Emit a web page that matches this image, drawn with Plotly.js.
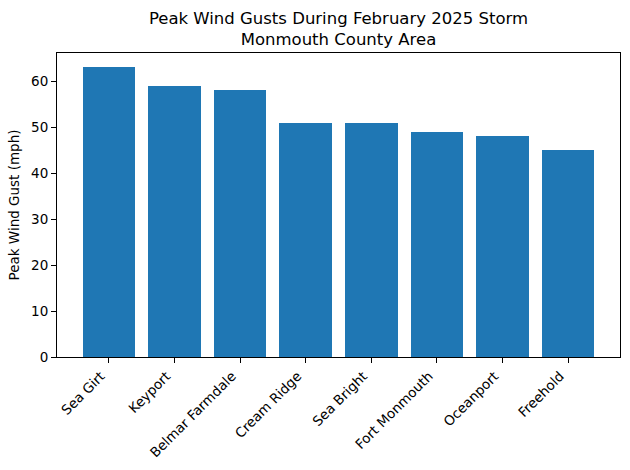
<!DOCTYPE html>
<html>
<head>
<meta charset="utf-8">
<script src="https://cdn.plot.ly/plotly-3.0.1.min.js"></script>
<style>html,body{margin:0;padding:0;background:#fff;}#chart{width:630px;height:470px;}</style>
</head>
<body>
<div id="chart"></div>
<script>
const locations = ["Sea Girt", "Keyport", "Belmar Farmdale", "Cream Ridge", "Sea Bright", "Fort Monmouth", "Oceanport", "Freehold"];
const gusts = [63, 59, 58, 51, 51, 49, 48, 45];

const trace = {
  type: 'bar',
  x: locations.map((_, i) => i),
  y: gusts,
  width: 0.8,
  marker: {color: '#1f77b4', line: {width: 0}},
  hoverinfo: 'x+y'
};

const font = {family: 'DejaVu Sans', color: '#000'};
const layout = {
  width: 630, height: 470,
  margin: {l: 57, r: 10, t: 53, b: 113, pad: 0},
  paper_bgcolor: '#fff', plot_bgcolor: '#fff',
  showlegend: false,
  font: {family: 'DejaVu Sans', size: 14, color: '#000'},
  title: {
    text: 'Peak Wind Gusts During February 2025 Storm<br>Monmouth County Area',
    font: Object.assign({size: 16.5}, font),
    x: 0.5, xref: 'paper', xanchor: 'center',
    y: 1 - 24 / 470, yref: 'container', yanchor: 'middle'
  },
  xaxis: {
    range: [-0.79, 7.79],
    tickmode: 'array',
    tickvals: locations.map((_, i) => i),
    ticktext: locations,
    tickangle: -45,
    ticklabelshift: -8,
    ticks: 'outside', ticklen: 5, tickwidth: 1, tickcolor: '#000',
    tickfont: Object.assign({size: 13.5}, font),
    showline: true, linecolor: '#000', linewidth: 1, mirror: true,
    showgrid: false, zeroline: false
  },
  yaxis: {
    range: [0, 66.15],
    tickvals: [0, 10, 20, 30, 40, 50, 60],
    ticks: 'outside', ticklen: 5, tickwidth: 1, tickcolor: '#000',
    tickfont: Object.assign({size: 13.5}, font),
    showline: true, linecolor: '#000', linewidth: 1, mirror: true,
    showgrid: false, zeroline: false,
    title: {text: 'Peak Wind Gust (mph)', font: Object.assign({size: 13.5}, font), standoff: 8}
  },
  bargap: 0
};

Plotly.newPlot('chart', [trace], layout, {displayModeBar: false, staticPlot: true});
</script>
</body>
</html>
